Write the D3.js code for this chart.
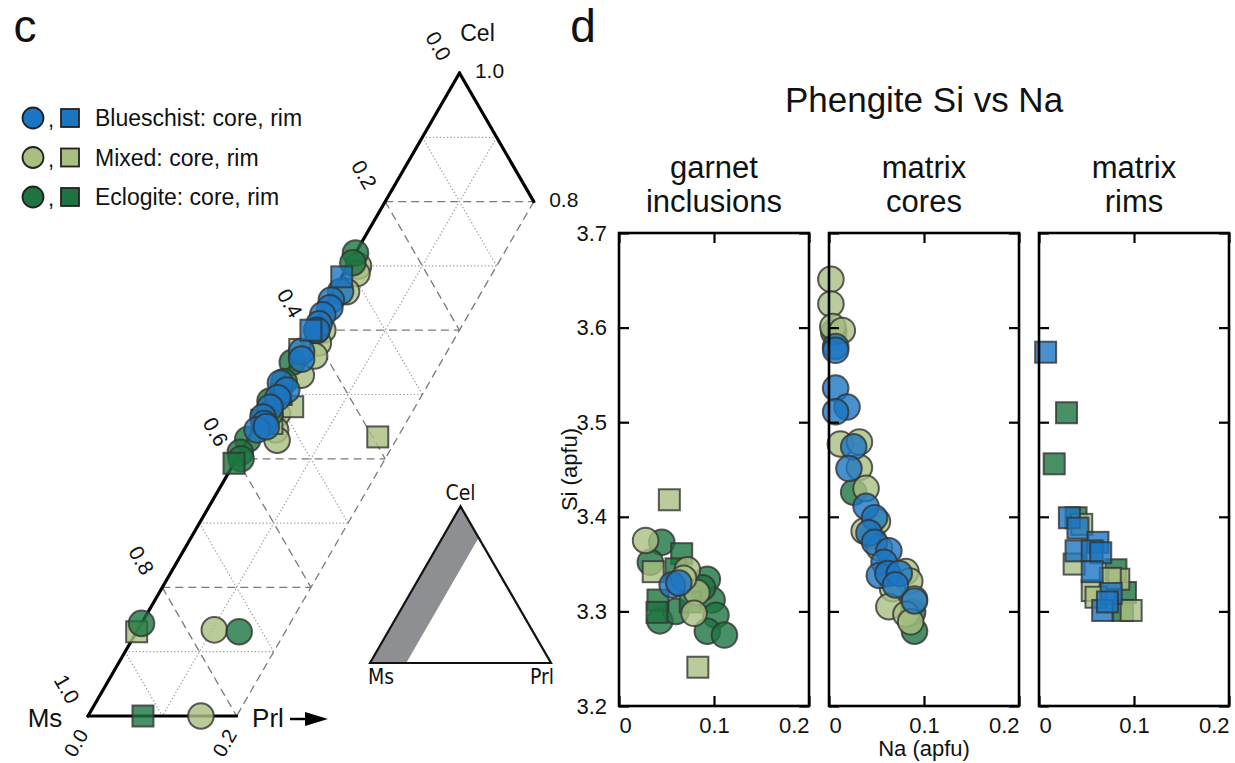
<!DOCTYPE html>
<html>
<head>
<meta charset="utf-8">
<script src="https://cdn.jsdelivr.net/npm/d3@7"></script>
<style>
body { margin: 0; background: #fff; }
svg text { font-family: "Liberation Sans", Arial, Helvetica, sans-serif; fill: #111; }
</style>
</head>
<body>
<svg id="fig" width="1235" height="763"></svg>
<script>
// ---- ternary data: [Cel, Prl] fractions (Ms = 1 - Cel - Prl) ----
const ternMixedCore = [[0.70,0.014],[0.688,0.018],[0.66,0.018],[0.60,0.016],[0.58,0.02],[0.53,0.022],[0.47,0.02],[0.445,0.03],[0.429,0.04],[0.56,0.025],[0.134,0.103],[0.0,0.152]];
const ternMixedRim = [[0.131,0.0],[0.481,0.035],[0.434,0.173],[0.57,0.0],[0.455,0.02]];
const ternGreenCore = [[0.72,0.0],[0.705,0.004],[0.60,0.008],[0.55,0.0],[0.52,0.004],[0.49,0.0],[0.47,0.01],[0.43,0.0],[0.41,0.0],[0.40,0.006],[0.144,0.0],[0.131,0.138]];
const ternGreenRim = [[0.393,0.0],[0.0,0.074],[0.50,0.01],[0.46,0.004]];
const ternBlueCore = [[0.66,0.01],[0.647,0.004],[0.635,0.008],[0.624,0.004],[0.61,0.006],[0.60,0.008],[0.567,0.004],[0.555,0.01],[0.518,0.0],[0.507,0.014],[0.495,0.008],[0.48,0.005],[0.465,0.003],[0.455,0.01],[0.445,0.005],[0.45,0.015]];
const ternBlueRim = [[0.683,0.0],[0.60,0.0]];

const ternLeftTicks = [0.0, 0.2, 0.4, 0.6, 0.8, 1.0];   // Ms along left edge
const ternRightTicks = [1.0, 0.8];                       // Cel along right edge
const ternBottomTicks = [0.0, 0.2];                      // Prl along bottom
const gridSteps = [0.1,0.2,0.3,0.4,0.5,0.6,0.7,0.8,0.9];

// ---- phengite Si vs Na data: [Na, Si] ----
const incGreenCore = [[0.045,3.373],[0.033,3.352],[0.093,3.334],[0.098,3.312],[0.043,3.290],[0.102,3.296],[0.093,3.279],[0.111,3.275],[0.088,3.325],[0.06,3.30]];
const incGreenRim = [[0.066,3.361],[0.060,3.345],[0.041,3.312],[0.040,3.299],[0.075,3.31]];
const incMixedCore = [[0.028,3.375],[0.072,3.344],[0.082,3.320],[0.079,3.298],[0.068,3.335]];
const incMixedRim = [[0.053,3.418],[0.036,3.342],[0.083,3.241]];
const incBlueCore = [[0.056,3.328],[0.063,3.330]];

const coreGreen = [[0.005,3.595],[0.026,3.426],[0.088,3.299],[0.090,3.279],[0.045,3.38]];
const coreMixed = [[0.002,3.651],[0.002,3.625],[0.004,3.601],[0.014,3.597],[0.012,3.477],[0.032,3.479],[0.032,3.452],[0.039,3.430],[0.051,3.395],[0.037,3.385],[0.053,3.367],[0.081,3.342],[0.085,3.332],[0.067,3.324],[0.090,3.313],[0.063,3.305],[0.081,3.297],[0.086,3.289]];
const coreBlue = [[0.007,3.580],[0.007,3.576],[0.007,3.536],[0.019,3.516],[0.007,3.511],[0.026,3.474],[0.021,3.451],[0.039,3.411],[0.048,3.399],[0.042,3.383],[0.048,3.373],[0.063,3.364],[0.058,3.352],[0.053,3.338],[0.062,3.340],[0.074,3.340],[0.070,3.328],[0.090,3.311]];

const rimGreen = [[0.029,3.510],[0.016,3.456],[0.039,3.399],[0.081,3.344],[0.091,3.320],[0.088,3.301]];
const rimMixed = [[0.045,3.392],[0.037,3.350],[0.084,3.334],[0.056,3.322],[0.097,3.301],[0.075,3.335],[0.06,3.315]];
const rimBlue = [[0.007,3.574],[0.032,3.399],[0.041,3.388],[0.062,3.373],[0.039,3.364],[0.056,3.364],[0.065,3.362],[0.056,3.342],[0.076,3.319],[0.067,3.301],[0.072,3.31]];

const panelTitles = [['garnet','inclusions'], ['matrix','cores'], ['matrix','rims']];
const siTicks = [3.2, 3.3, 3.4, 3.5, 3.6, 3.7];
const naTicks = [0, 0.1, 0.2];

const colors = { blue: '#1b76c2', mixed: '#a9bf82', green: '#1d7440' };
const legendRows = [['blue','Blueschist: core, rim'], ['mixed','Mixed: core, rim'], ['green','Eclogite: core, rim']];

const svg = d3.select('#fig');
const R = 12.8, S = 21;

function drawMarkers(g, data, shape, color, px, py, opacity) {
    if (shape === 'circle') {
        g.selectAll(null).data(data).enter().append('circle')
            .attr('cx', d => px(d)).attr('cy', d => py(d)).attr('r', R)
            .attr('fill', colors[color]).attr('fill-opacity', opacity)
            .attr('stroke', '#333').attr('stroke-opacity', 0.8).attr('stroke-width', 2);
    } else {
        g.selectAll(null).data(data).enter().append('rect')
            .attr('x', d => px(d) - S / 2).attr('y', d => py(d) - S / 2)
            .attr('width', S).attr('height', S)
            .attr('fill', colors[color]).attr('fill-opacity', opacity)
            .attr('stroke', '#333').attr('stroke-opacity', 0.8).attr('stroke-width', 2);
    }
}

// panel letters
svg.append('text').attr('x', 25).attr('y', 42).attr('text-anchor', 'middle').style('font-size', '46px').text('c');
svg.append('text').attr('x', 583).attr('y', 42).attr('text-anchor', 'middle').style('font-size', '46px').text('d');

// ---------------- panel c : ternary ----------------
const H = Math.sqrt(3) / 2;
const terX = d3.scaleLinear().domain([0, 1]).range([88, 831]);
const terY = d3.scaleLinear().domain([0, H]).range([716, 73]);
const tx = (cel, prl) => terX(prl + cel / 2);
const ty = (cel) => terY(cel * H);
const tern = svg.append('g');

function ternLine(a, b, style) {
    const l = tern.append('line')
        .attr('x1', tx(a[0], a[1])).attr('y1', ty(a[0]))
        .attr('x2', tx(b[0], b[1])).attr('y2', ty(b[0]));
    if (style === 'dash') l.attr('stroke', '#7a7a7a').attr('stroke-width', 1.3).attr('stroke-dasharray', '8,5');
    else if (style === 'dot') l.attr('stroke', '#9a9a9a').attr('stroke-width', 1.2).attr('stroke-dasharray', '1.3,2.2');
    else l.attr('stroke', '#000').attr('stroke-width', 3.2).attr('stroke-linecap', 'round');
}
const styleOf = v => (Math.round(v * 10) % 2 === 0 ? 'dash' : 'dot');

// constant Cel (horizontal)
gridSteps.forEach(c => ternLine([c, 0], [c, Math.min(0.2, 1 - c)], styleOf(c)));
// constant Ms (down-right)
gridSteps.forEach(m => {
    const c0 = 1 - m;
    const p1 = Math.min(0.2, c0);
    ternLine([c0, 0], [c0 - p1, p1], styleOf(m));
});
// constant Prl (parallel to left edge)
ternLine([0.9, 0.1], [0, 0.1], 'dot');
ternLine([0.8, 0.2], [0, 0.2], 'dash');
// solid outline
ternLine([1, 0], [0, 0], 'solid');
ternLine([0, 0], [0, 0.2], 'solid');
ternLine([1, 0], [0.8, 0.2], 'solid');

// tick labels
ternLeftTicks.forEach(v => {
    const c = 1 - v;
    const x = tx(c, 0) - 21, y = ty(c) - 27;
    tern.append('text').attr('transform', `translate(${x},${y}) rotate(60)`)
        .attr('text-anchor', 'middle').attr('dy', '0.35em').style('font-size', '21px').text(v.toFixed(1));
});
ternRightTicks.forEach(v => {
    tern.append('text').attr('x', tx(v, 1 - v) + 30).attr('y', ty(v) - 2)
        .attr('text-anchor', 'middle').attr('dy', '0.35em').style('font-size', '21px').text(v.toFixed(1));
});
ternBottomTicks.forEach(v => {
    const x = tx(0, v) - 12, y = ty(0) + 27;
    tern.append('text').attr('transform', `translate(${x},${y}) rotate(-60)`)
        .attr('text-anchor', 'middle').attr('dy', '0.35em').style('font-size', '20px').text(v.toFixed(1));
});
tern.append('text').attr('x', tx(1, 0) + 18).attr('y', 41).attr('text-anchor', 'middle').style('font-size', '23px').text('Cel');
tern.append('text').attr('x', 45).attr('y', 727).attr('text-anchor', 'middle').style('font-size', '26px').text('Ms');
tern.append('text').attr('x', 268).attr('y', 727).attr('text-anchor', 'middle').style('font-size', '26px').text('Prl');
tern.append('line').attr('x1', 290).attr('y1', 719).attr('x2', 308).attr('y2', 719).attr('stroke', '#000').attr('stroke-width', 2.5);
tern.append('path').attr('d', 'M305,712 L328,719 L305,726 Z').attr('fill', '#000');

// markers
const tpx = d => tx(d[0], d[1]), tpy = d => ty(d[0]);
drawMarkers(tern, ternMixedCore, 'circle', 'mixed', tpx, tpy, 0.82);
drawMarkers(tern, ternMixedRim, 'rect', 'mixed', tpx, tpy, 0.82);
drawMarkers(tern, ternGreenCore, 'circle', 'green', tpx, tpy, 0.8);
drawMarkers(tern, ternGreenRim, 'rect', 'green', tpx, tpy, 0.8);
drawMarkers(tern, ternBlueCore, 'circle', 'blue', tpx, tpy, 0.8);
drawMarkers(tern, ternBlueRim, 'rect', 'blue', tpx, tpy, 0.8);

// legend
const leg = svg.append('g');
legendRows.forEach((r, i) => {
    const y = 118 + i * 39.5;
    leg.append('circle').attr('cx', 33).attr('cy', y).attr('r', 10.5)
        .attr('fill', colors[r[0]]).attr('stroke', '#222').attr('stroke-width', 1.8);
    leg.append('text').attr('x', 48).attr('y', y + 9).style('font-size', '22px').text(',');
    leg.append('rect').attr('x', 61).attr('y', y - 9).attr('width', 18).attr('height', 18)
        .attr('fill', colors[r[0]]).attr('stroke', '#222').attr('stroke-width', 1.8);
    leg.append('text').attr('x', 95).attr('y', y + 8).style('font-size', '23px').text(r[1]);
});

// inset triangle
const insX = d3.scaleLinear().domain([0, 1]).range([370, 551]);
const insY = d3.scaleLinear().domain([0, H]).range([663, 506.3]);
const ipt = (cel, prl) => [insX(prl + cel / 2), insY(cel * H)];
const inset = svg.append('g').style('font-family', '"Liberation Sans Narrow", "DejaVu Sans Condensed", sans-serif');
inset.append('path').attr('d', d3.line()([ipt(0, 0), ipt(1, 0), ipt(0.8, 0.2), ipt(0, 0.2)]) + 'Z').attr('fill', '#8e8f92');
inset.append('path').attr('d', d3.line()([ipt(0, 0), ipt(1, 0), ipt(0, 1)]) + 'Z')
    .attr('fill', 'none').attr('stroke', '#111').attr('stroke-width', 2.2).attr('stroke-linejoin', 'miter');
inset.append('text').attr('x', ipt(1, 0)[0]).attr('y', ipt(1, 0)[1] - 6).attr('text-anchor', 'middle')
    .style('font-family', 'inherit').style('font-size', '21px').text('Cel');
inset.append('text').attr('x', ipt(0, 0)[0] - 2).attr('y', ipt(0, 0)[1] + 21)
    .style('font-family', 'inherit').style('font-size', '21px').text('Ms');
inset.append('text').attr('x', ipt(0, 1)[0] + 3).attr('y', ipt(0, 1)[1] + 21).attr('text-anchor', 'end')
    .style('font-family', 'inherit').style('font-size', '21px').text('Prl');

// ---------------- panel d : Si vs Na ----------------
svg.append('text').attr('x', 924).attr('y', 112).attr('text-anchor', 'middle').style('font-size', '35px').text('Phengite Si vs Na');

const panelLeft = [619, 829, 1039];
const pw = 190, ph = 473, plotTop = 233;
const xNa = d3.scaleLinear().domain([0, 0.2]).range([0, pw]);
const ySi = d3.scaleLinear().domain([3.2, 3.7]).range([ph, 0]);

const panelData = [
    [[incGreenCore,'circle','green'],[incGreenRim,'rect','green'],[incMixedCore,'circle','mixed'],[incMixedRim,'rect','mixed'],[incBlueCore,'circle','blue']],
    [[coreGreen,'circle','green'],[coreMixed,'circle','mixed'],[coreBlue,'circle','blue']],
    [[rimGreen,'rect','green'],[rimMixed,'rect','mixed'],[rimBlue,'rect','blue']]
];

panelLeft.forEach((x0, i) => {
    const g = svg.append('g').attr('transform', `translate(${x0},${plotTop})`);
    const cx = pw / 2;
    g.append('text').attr('x', cx).attr('y', -55).attr('text-anchor', 'middle').style('font-size', '31px').text(panelTitles[i][0]);
    g.append('text').attr('x', cx).attr('y', -21).attr('text-anchor', 'middle').style('font-size', '31px').text(panelTitles[i][1]);

    panelData[i].forEach(s => drawMarkers(g, s[0], s[1], s[2], d => xNa(d[0]), d => ySi(d[1]), 0.8));

    const left = g.append('g').call(d3.axisLeft(ySi).tickValues(siTicks).tickSize(-10).tickPadding(12)
        .tickFormat(i === 0 ? d3.format('.1f') : ''));
    const right = g.append('g').attr('transform', `translate(${pw},0)`)
        .call(d3.axisRight(ySi).tickValues(siTicks).tickSize(-10).tickFormat(''));
    const bottom = g.append('g').attr('transform', `translate(0,${ph})`)
        .call(d3.axisBottom(xNa).tickValues(naTicks).tickSize(-10).tickPadding(11)
        .tickFormat(d => d === 0 ? '0' : d3.format('.1f')(d)));
    const topAx = g.append('g').call(d3.axisTop(xNa).tickValues(naTicks).tickSize(-10).tickFormat(''));
    [left, right, bottom, topAx].forEach(a => {
        a.select('.domain').remove();
        a.selectAll('line').attr('stroke', '#000').attr('stroke-width', 2.2);
        a.selectAll('text').style('font-size', '22px').attr('fill', '#111').style('font-family', '"Liberation Sans", Arial, sans-serif');
    });
    bottom.selectAll('text').attr('text-anchor', d => d === 0 ? 'start' : (d === 0.2 ? 'end' : 'middle'));

    g.append('rect').attr('x', 0).attr('y', 0).attr('width', pw).attr('height', ph)
        .attr('fill', 'none').attr('stroke', '#000').attr('stroke-width', 2.6);
});

svg.append('text').attr('x', panelLeft[1] + pw / 2).attr('y', 756).attr('text-anchor', 'middle').style('font-size', '22px').text('Na (apfu)');
svg.append('text').attr('transform', `translate(577,${plotTop + ph / 2}) rotate(-90)`).attr('text-anchor', 'middle').style('font-size', '22px').text('Si (apfu)');
</script>
</body>
</html>
